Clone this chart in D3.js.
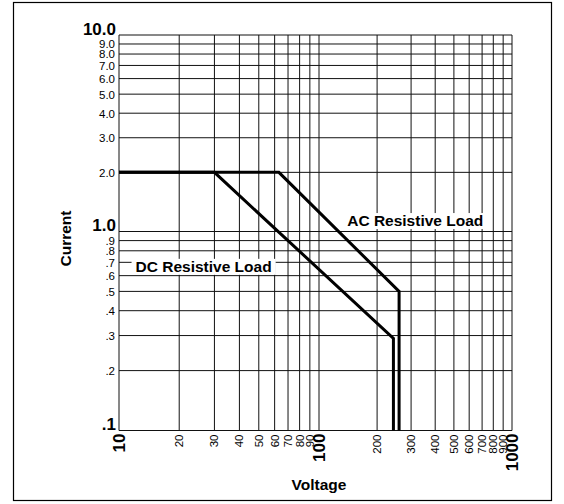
<!DOCTYPE html>
<html>
<head>
<meta charset="utf-8">
<script src="https://cdn.jsdelivr.net/npm/d3@7"></script>
<style>
  html, body { margin: 0; padding: 0; background: #fff; }
  svg { display: block; }
  text { font-family: "Liberation Sans", Arial, Helvetica, sans-serif; fill: #000; }
</style>
</head>
<body>
<svg id="chart" width="564" height="504"></svg>
<script>
// ---- data ----
const xMajorTicks = [10, 100, 1000];
const xMajorLabels = ["10", "100", "1000"];
const xMinorTicks = [20, 30, 40, 50, 60, 70, 80, 90, 200, 300, 400, 500, 600, 700, 800, 900];
const xMinorLabels = ["20", "30", "40", "50", "60", "70", "80", "90", "200", "300", "400", "500", "600", "700", "800", "900"];
const yMajorTicks = [0.1, 1, 10];
const yMajorLabels = [".1", "1.0", "10.0"];
const yMinorTicks = [0.2, 0.3, 0.4, 0.5, 0.6, 0.7, 0.8, 0.9, 2, 3, 4, 5, 6, 7, 8, 9];
const yMinorLabels = [".2", ".3", ".4", ".5", ".6", ".7", ".8", ".9", "2.0", "3.0", "4.0", "5.0", "6.0", "7.0", "8.0", "9.0"];

const dcVoltage = [10, 30, 243, 243];
const dcCurrent = [2, 2, 0.29, 0.1];
const acVoltage = [10, 63, 260, 260];
const acCurrent = [2, 2, 0.5, 0.1];

const seriesNames = ["DC Resistive Load", "AC Resistive Load"];
const labelVoltage = [12.1, 140];
const labelCurrent = [0.627, 1.066];

const xTitle = "Voltage";
const yTitle = "Current";

// ---- drawing ----
const svg = d3.select("#chart");
const x = d3.scaleLog().domain([10, 100, 1000]).range([119, 319, 512]);
const y = d3.scaleLog().domain([0.1, 1, 10]).range([430.5, 231.5, 35]);

// outer frame
svg.append("rect").attr("x", 13.5).attr("y", 2.5).attr("width", 538).attr("height", 498)
  .attr("fill", "#fff").attr("stroke", "#000").attr("stroke-width", 1.2);

const g = svg.append("g");
const allX = xMajorTicks.concat(xMinorTicks);
const allY = yMajorTicks.concat(yMinorTicks);

// grid
g.selectAll("line.vx").data(allX).join("line").attr("class", "vx")
  .attr("x1", d => x(d)).attr("x2", d => x(d))
  .attr("y1", y(10)).attr("y2", y(0.1))
  .attr("stroke", "#111").attr("stroke-width", 1);
g.selectAll("line.hy").data(allY).join("line").attr("class", "hy")
  .attr("y1", d => y(d)).attr("y2", d => y(d))
  .attr("x1", x(10)).attr("x2", x(1000))
  .attr("stroke", "#111").attr("stroke-width", 1);

// y tick labels
g.selectAll("text.ymin").data(yMinorTicks).join("text").attr("class", "ymin")
  .attr("x", x(10) - 4).attr("y", d => y(d)).attr("dy", "0.38em")
  .attr("text-anchor", "end").attr("font-size", 11.5)
  .text((d, i) => yMinorLabels[i]);
g.selectAll("text.ymaj").data(yMajorTicks).join("text").attr("class", "ymaj")
  .attr("x", x(10) - 3).attr("y", d => y(d)).attr("dy", "-0.02em")
  .attr("text-anchor", "end").attr("font-size", 17).attr("font-weight", "bold")
  .text((d, i) => yMajorLabels[i]);

// x tick labels (rotated)
g.selectAll("text.xmin").data(xMinorTicks).join("text").attr("class", "xmin")
  .attr("transform", d => `translate(${x(d)},${y(0.1) + 4}) rotate(-90)`)
  .attr("dy", "0.35em").attr("text-anchor", "end").attr("font-size", 11.5)
  .text((d, i) => xMinorLabels[i]);
g.selectAll("text.xmaj").data(xMajorTicks).join("text").attr("class", "xmaj")
  .attr("transform", d => `translate(${x(d)},${y(0.1) + 3}) rotate(-90)`)
  .attr("dy", "0.36em").attr("text-anchor", "end").attr("font-size", 17).attr("font-weight", "bold")
  .text((d, i) => xMajorLabels[i]);

// axis titles
svg.append("text").attr("x", x(100)).attr("y", 490).attr("text-anchor", "middle")
  .attr("font-size", 15.5).attr("font-weight", "bold").text(xTitle);
svg.append("text").attr("transform", `translate(71,${y(1.0) + 7}) rotate(-90)`)
  .attr("text-anchor", "middle").attr("font-size", 15.5).attr("font-weight", "bold").text(yTitle);

// curves
const line = d3.line().x(d => x(d[0])).y(d => y(d[1]));
const dcPts = dcVoltage.map((v, i) => [v, dcCurrent[i]]);
const acPts = acVoltage.map((v, i) => [v, acCurrent[i]]);
[dcPts, acPts].forEach(pts => {
  g.append("path").attr("d", line(pts)).attr("fill", "none")
    .attr("stroke", "#000").attr("stroke-width", 3).attr("stroke-linejoin", "miter");
});

// series labels with white background
seriesNames.forEach((name, i) => {
  const lg = g.append("g");
  const t = lg.append("text").attr("x", x(labelVoltage[i])).attr("y", y(labelCurrent[i]))
    .attr("font-size", 15.5).attr("font-weight", "bold").text(name);
  const bb = t.node().getBBox();
  lg.insert("rect", "text").attr("x", bb.x - 4).attr("y", bb.y + 1)
    .attr("width", bb.width + 8).attr("height", bb.height - 1).attr("fill", "#fff");
});
</script>
</body>
</html>
